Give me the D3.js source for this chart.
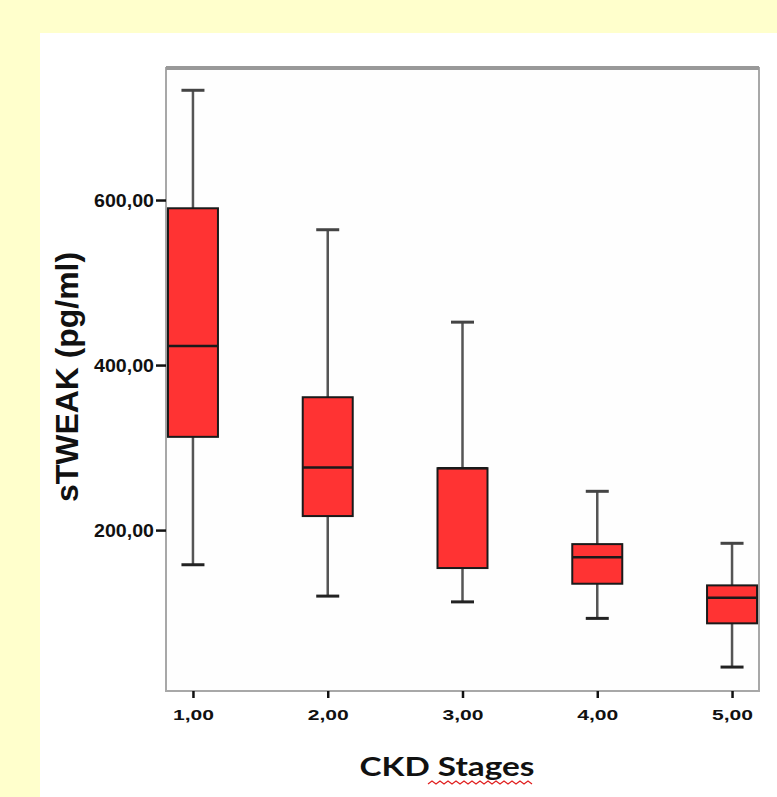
<!DOCTYPE html>
<html>
<head>
<meta charset="utf-8">
<script src="https://cdn.jsdelivr.net/npm/d3@7"></script>
<style>
  html,body{margin:0;padding:0;background:#ffffcc;}
  svg{display:block;}
</style>
</head>
<body>
<div id="chart"></div>
<script>
// sTWEAK par stade CKD - boxplot
const stages=["1,00","2,00","3,00","4,00","5,00"];
const whiskerHigh=[733,564,452,247,184];
const q3=[590,361,275,183,133];
const median=[423,276,275,167,118];
const q1=[313,217,154,135,87];
const whiskerLow=[158,120,113,93,34];
const yTicks=[200,400,600];

const W=777,H=797;
const PL=166,PR=759,PT=68,PB=691;
const BOXW=50,CAPW=23;

const rows=stages.map((s,i)=>({s,hi:whiskerHigh[i],q3:q3[i],med:median[i],q1:q1[i],lo:whiskerLow[i]}));

const svg=d3.select("#chart").append("svg").attr("width",W).attr("height",H);

// fond
svg.append("rect").attr("width",W).attr("height",H).attr("fill","#ffffcc");
svg.append("rect").attr("x",40).attr("y",33).attr("width",W-40).attr("height",H-33).attr("fill","#ffffff");

const x=d3.scalePoint().domain(stages).range([PL,PR]).padding(0.2);
const y=d3.scaleLinear().domain([5,760]).range([PB,PT]);

// ── CADRE ─────────────────────────────────────────────
svg.append("rect").attr("x",PL).attr("y",PT).attr("width",PR-PL).attr("height",PB-PT)
  .attr("fill","#fefefe").attr("stroke","#a8a8a8").attr("stroke-width",2);
svg.append("line").attr("x1",PL).attr("x2",PR).attr("y1",PT).attr("y2",PT)
  .attr("stroke","#999999").attr("stroke-width",4);

// ── AXES ──────────────────────────────────────────────
const fmt=d=>d3.format(".2f")(d).replace(".",",");

const ya=svg.append("g").attr("transform",`translate(${PL},0)`)
  .call(d3.axisLeft(y).tickValues(yTicks).tickSize(10).tickPadding(2).tickFormat(fmt));
ya.select(".domain").remove();
ya.selectAll(".tick line").attr("stroke","#111").attr("stroke-width",2.5);
ya.selectAll(".tick text").attr("font-family","Arial, 'Liberation Sans', sans-serif")
  .attr("font-size",19).attr("font-weight","bold").attr("fill","#111")
  .attr("textLength",60).attr("lengthAdjust","spacingAndGlyphs");

const xa=svg.append("g").attr("transform",`translate(0,${PB})`)
  .call(d3.axisBottom(x).tickSize(7).tickPadding(11).tickFormat(d=>d));
xa.select(".domain").remove();
xa.selectAll(".tick line").attr("stroke","#111").attr("stroke-width",2.5);
xa.selectAll(".tick text").attr("font-family","Arial, 'Liberation Sans', sans-serif")
  .attr("font-size",15).attr("font-weight","bold").attr("fill","#111")
  .attr("textLength",41).attr("lengthAdjust","spacingAndGlyphs");

// ── BOITES ────────────────────────────────────────────
const g=svg.append("g");
const bx=g.selectAll("g.box").data(rows).join("g").attr("class","box");

bx.append("line").attr("x1",d=>x(d.s)).attr("x2",d=>x(d.s))
  .attr("y1",d=>y(d.hi)).attr("y2",d=>y(d.q3)).attr("stroke","#555").attr("stroke-width",2.5);
bx.append("line").attr("x1",d=>x(d.s)).attr("x2",d=>x(d.s))
  .attr("y1",d=>y(d.q1)).attr("y2",d=>y(d.lo)).attr("stroke","#555").attr("stroke-width",2.5);
bx.append("line").attr("x1",d=>x(d.s)-CAPW/2).attr("x2",d=>x(d.s)+CAPW/2)
  .attr("y1",d=>y(d.hi)).attr("y2",d=>y(d.hi)).attr("stroke","#444").attr("stroke-width",3);
bx.append("line").attr("x1",d=>x(d.s)-CAPW/2).attr("x2",d=>x(d.s)+CAPW/2)
  .attr("y1",d=>y(d.lo)).attr("y2",d=>y(d.lo)).attr("stroke","#222").attr("stroke-width",3);

bx.append("rect").attr("x",d=>x(d.s)-BOXW/2).attr("width",BOXW)
  .attr("y",d=>y(d.q3)).attr("height",d=>y(d.q1)-y(d.q3))
  .attr("fill","#ff3333").attr("stroke","#1a1a1a").attr("stroke-width",2);
bx.append("line").attr("x1",d=>x(d.s)-BOXW/2).attr("x2",d=>x(d.s)+BOXW/2)
  .attr("y1",d=>y(d.med)).attr("y2",d=>y(d.med)).attr("stroke","#1a1a1a").attr("stroke-width",2.5);

// ── TITRES ────────────────────────────────────────────
svg.append("text").attr("transform",`translate(78,377) rotate(-90)`)
  .attr("text-anchor","middle").attr("font-family","Arial, 'Liberation Sans', sans-serif")
  .attr("font-size",31).attr("font-weight","bold").attr("fill","#111")
  .attr("textLength",250).attr("lengthAdjust","spacingAndGlyphs").text("sTWEAK (pg/ml)");

svg.append("text").attr("x",447).attr("y",776).attr("text-anchor","middle")
  .attr("font-family","Lato, 'Open Sans', sans-serif").attr("font-size",27).attr("font-weight","bold")
  .attr("fill","#111").attr("textLength",175).attr("lengthAdjust","spacingAndGlyphs").text("CKD Stages");

// soulignement correcteur
const sq=d3.range(428,536,4).map((px,i)=>[px,i%2?781:784]);
svg.append("path").attr("d",d3.line()(sq)).attr("fill","none").attr("stroke","#e02020").attr("stroke-width",1.2);
</script>
</body>
</html>
